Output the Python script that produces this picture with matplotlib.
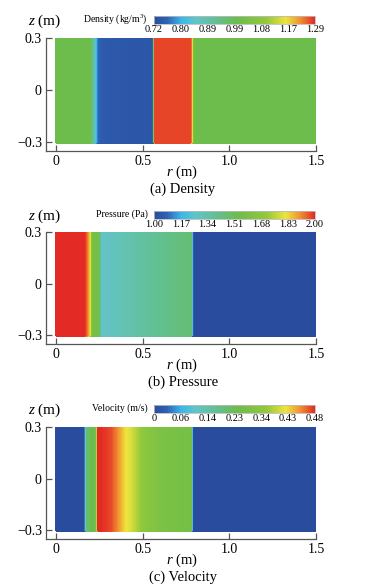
import numpy as np
import matplotlib

matplotlib.use("Agg")
import matplotlib.pyplot as plt
from matplotlib.colors import LinearSegmentedColormap, FuncNorm
from matplotlib.cm import ScalarMappable

plt.rcParams["font.family"] = ["Liberation Serif", "DejaVu Serif"]
plt.rcParams["mathtext.fontset"] = "custom"
plt.rcParams["mathtext.rm"] = "Liberation Serif"
plt.rcParams["mathtext.it"] = "Liberation Serif:italic"

# ----- data (1-D radial profiles, uniform in z) -------------------------------

density_r = [0, 0.185, 0.205, 0.218, 0.232, 0.26, 0.562, 0.572, 0.768, 0.776, 0.784, 1.5]
density_v = [1.0, 1.0, 0.92, 0.82, 0.76, 0.745, 0.735, 1.27, 1.27, 1.17, 1.0, 1.0]
density_ticks = [0.72, 0.80, 0.89, 0.99, 1.08, 1.17, 1.29]
density_labels = ["0.72", "0.80", "0.89", "0.99", "1.08", "1.17", "1.29"]

pressure_r = [0, 0.155, 0.172, 0.186, 0.198, 0.236, 0.252, 0.40, 0.60, 0.771, 0.777, 0.784, 1.5]
pressure_v = [2.0, 2.0, 1.92, 1.83, 1.58, 1.56, 1.26, 1.32, 1.40, 1.45, 1.18, 1.0, 1.0]
pressure_ticks = [1.00, 1.17, 1.34, 1.51, 1.68, 1.83, 2.00]
pressure_labels = ["1.00", "1.17", "1.34", "1.51", "1.68", "1.83", "2.00"]

velocity_r = [0, 0.165, 0.174, 0.182, 0.232, 0.245, 0.31, 0.36, 0.43, 0.50, 0.60, 0.771, 0.776, 0.782, 1.5]
velocity_v = [0, 0, 0.07, 0.21, 0.25, 0.48, 0.47, 0.445, 0.40, 0.34, 0.29, 0.27, 0.08, 0, 0]
velocity_ticks = [0, 0.06, 0.14, 0.23, 0.34, 0.43, 0.48]
velocity_labels = ["0", "0.06", "0.14", "0.23", "0.34", "0.43", "0.48"]

z_edges = [-0.3, 0.3]

# ----- style ------------------------------------------------------------------

CMAP = LinearSegmentedColormap.from_list("tecplot", [
    (0.00, "#2a4c9e"),
    (0.08, "#2f62b4"),
    (0.17, "#3cb8e8"),
    (0.26, "#62c4c8"),
    (0.40, "#62bf8c"),
    (0.52, "#6cbd4a"),
    (0.70, "#92c83c"),
    (0.82, "#efe43c"),
    (0.91, "#f09030"),
    (1.00, "#e42a24"),
])

W, H = 367, 587
AX_LEFT, AX_RIGHT = 46, 316
CB_LEFT, CB_RIGHT = 154, 315
SPINE_COLOR = "#555555"


def fx(px):
    return px / W


def fy(py):
    return 1 - py / H


def draw_panel(fig, r, v, ticks, labels, cb_title, caption, top, bottom, cb_top):
    ax = fig.add_axes([fx(AX_LEFT), fy(bottom), fx(AX_RIGHT - AX_LEFT), (bottom - top) / H])
    pos = np.arange(len(ticks), dtype=float)
    norm = FuncNorm((lambda x: np.interp(x, ticks, pos), lambda y: np.interp(y, pos, ticks)),
                    vmin=ticks[0], vmax=ticks[-1])
    levels = np.interp(np.linspace(0, pos[-1], 241), pos, ticks)
    levels[0] -= 1e-6
    levels[-1] += 1e-6

    R, Z = np.meshgrid(r, z_edges)
    V = np.tile(v, (2, 1))
    cs = ax.contourf(R, Z, V, levels=levels, cmap=CMAP, norm=norm, antialiased=False)
    cs.set_edgecolor("face")

    ax.set_xlim(-10 / 173.3, 1.5)
    ax.set_ylim(-0.3 - 9 / 173.3, 0.3)
    for s in ("top", "right"):
        ax.spines[s].set_visible(False)
    for s in ("left", "bottom"):
        ax.spines[s].set_color(SPINE_COLOR)
        ax.spines[s].set_linewidth(0.9)
    ax.set_xticks([0, 0.5, 1.0, 1.5])
    ax.set_xticklabels(["0", "0.5", "1.0", "1.5"])
    ax.set_yticks([-0.3, 0, 0.3])
    ax.set_yticklabels(["\u22120.3", "0", "0.3"])
    ax.tick_params(direction="in", length=4, width=0.9, color=SPINE_COLOR,
                   labelsize=10, pad=3)

    # colorbar
    cax = fig.add_axes([fx(CB_LEFT), fy(cb_top + 8), fx(CB_RIGHT - CB_LEFT), 8 / H])
    cb = fig.colorbar(ScalarMappable(norm=norm, cmap=CMAP), cax=cax, orientation="horizontal")
    cb.set_ticks(ticks)
    cb.set_ticklabels(labels)
    cb.ax.tick_params(length=0, labelsize=7.5, pad=0.5)
    cb.outline.set_edgecolor("#bbbbbb")
    cb.outline.set_linewidth(0.6)

    fig.text(fx(148), fy(cb_top + 3), cb_title, ha="right", va="center", fontsize=7)
    fig.text(fx(45), fy(cb_top + 5), "$z$ (m)", ha="center", va="center", fontsize=11)
    fig.text(fx(182), fy(bottom + 21), "$r$ (m)", ha="center", va="center", fontsize=10.5)
    fig.text(fx(183), fy(bottom + 38), caption, ha="center", va="center", fontsize=10.5)
    return ax


fig = plt.figure(figsize=(W / 100, H / 100), dpi=100)
draw_panel(fig, density_r, density_v, density_ticks, density_labels,
           "Density (kg/m$^3$)", "(a) Density", top=38, bottom=151, cb_top=16)
draw_panel(fig, pressure_r, pressure_v, pressure_ticks, pressure_labels,
           "Pressure (Pa)", "(b) Pressure", top=232, bottom=344, cb_top=211)
draw_panel(fig, velocity_r, velocity_v, velocity_ticks, velocity_labels,
           "Velocity (m/s)", "(c) Velocity", top=427, bottom=539, cb_top=405)

fig.savefig("out.png", dpi=100)
plt.close(fig)
